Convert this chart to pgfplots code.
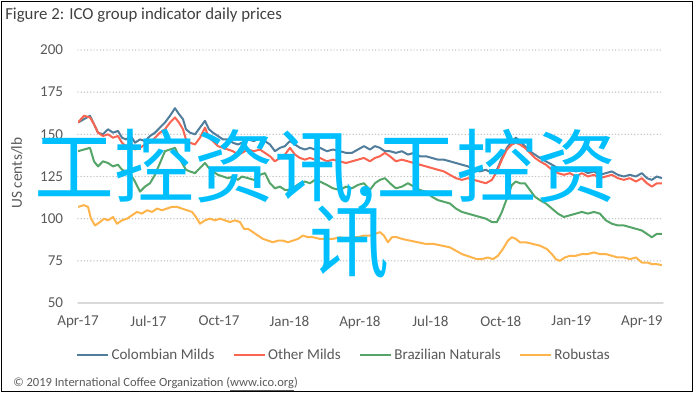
\documentclass[border=0pt]{standalone}
\usepackage{pgfplots}
\usepackage{pgfplotstable}
\pgfplotsset{compat=1.18}
\usepackage{fontspec}
\setmainfont{Carlito}
\newfontfamily\cjk{Noto Sans CJK SC}
\definecolor{cmilds}{RGB}{80,125,155}
\definecolor{omilds}{RGB}{250,100,80}
\definecolor{bnat}{RGB}{85,165,105}
\definecolor{robu}{RGB}{255,180,75}
\definecolor{txt}{RGB}{89,89,89}
\definecolor{ttl}{RGB}{64,64,64}
\definecolor{wm}{RGB}{0,191,255}

\pgfplotstableread{
p cm om bn
78 157 157 140
84 159 161 141
90 161 160 142
94 156 156 134
98 151 151 131
103 150 149 134
108 153 150 133
113 151 148 131
118 152 149 132
122 148 145 129
126 147 143 128
131 149 145 126
135 145 141 122
140 147 142 116
145 146 144 119
150 149 145 121
155 151 148 126
160 154 151 133
165 157 153 140
170 161 157 141
175 165.5 160 142
179 162 157 137
183 159 153 132
186 153 147 129
190 151 145 128
195 150 144 127
200 154 148 130
205 158 154 133
209 153 148 130
213 151 146 128
218 149 143 126
223 147 142 125
228 147 141 124
233 145 140 125
238 144 138 123
242 145 139 125
248 147 141 124
254 146 140 123
260 148 141 126
265 146 139 127
270 144 137 121
275 140 134 118
280 142 136 119
285 143 138 117
290 146 142 117
295 144 138 119
300 142 136 121
305 141 135 122
310 142 136 121
315 141 135 123
320 142 136 122
327 140 134 120
333 141 135 118
340 140 134 117
346 139 133 119
352 139 134 118
358 141 135 120
364 143 136 121
370 141 134 117
375 143 136 121
380 142 137 123
385 140 139 124
390 140 137 121
396 139 134 118
402 140 135 119
408 138 134 121
414 139 133 119
420 137 132 117
426 137 131 116
432 136 130 113
438 135 129 111
444 135 128 110
450 134 126 109
456 133 124 106
462 132 123 104
468 131 124 103
474 129 123 102
480 128 122 101
486 129 121 100
492 127 123 98
497 129 128 98
502 136 135 104
507 142 141 112
512 146 144 120
516 148 145 122
520 146 144 121
525 143 142 121
530 140 139 117
535 138 136 113
540 136 134 111
546 134 132 109
552 132 129 106
558 130 127 103
564 129 126 101
570 129 127 102
576 128 125 103
582 129 127 104
588 127 125 103
594 128 126 104
600 126 124 103
606 127 125 99
612 128 126 97
618 126 124 96
624 125 123 96
630 126 124 95
636 125 122 94
642 127 124 93
647 124 121 91
652 123 119 89
657 125 121 91
662 124 121 91
}\datamain

\pgfplotstableread{
p rb
78 107
84 108
88 107
91 100
95 96
100 98
104 100
108 99
113 101
117 97
122 99
127 100
132 102
137 104
142 103
147 105
152 104
157 106
162 105
167 106
172 107
177 107
182 106
187 105
192 104
196 101
200 97
205 99
210 100
215 99
220 100
225 99
230 98
235 99
240 98
244 94
248 94
253 92
258 90
263 88
268 87
273 86
278 87
283 87
288 86
293 87
298 88
303 90
308 89
313 89
320 88
327 88
333 88
340 89
346 88
352 89
358 89
364 90
370 90
375 91
380 92
384 90
388 86
392 89
397 89
402 88
410 87
418 86
426 85
434 85
442 84
450 83
456 81
462 79
467 78
472 77
477 76
482 76
488 77
493 76
498 78
503 82
508 87
512 89
516 88
520 86
526 86
533 85
540 84
547 82
552 79
556 76
560 75
565 77
570 78
576 78
582 79
588 79
594 80
600 79
606 79
612 78
618 77
624 77
630 76
636 77
642 74
648 74
652 73
657 73
662 72.5
}\datarob

\begin{document}
\begin{tikzpicture}
\useasboundingbox (0pt,0pt) rectangle (521.25pt,295.5pt);
\draw[black,line width=1.2pt] (1.125pt,1.875pt) rectangle (519.375pt,294.375pt);
\node[anchor=base west,inner sep=0pt,text=ttl,font=\fontsize{12.6}{14}\selectfont] at (3.75pt,281.25pt) {Figure 2: ICO group indicator daily prices};
\node[rotate=90,inner sep=0pt,text=txt,font=\fontsize{11.5}{13}\selectfont] at (12.75pt,165.75pt) {US cents/lb};
\begin{axis}[
  at={(58.5pt,68.25pt)}, anchor=south west,
  scale only axis, width=438.75pt, height=189.75pt,
  xmin=0, xmax=24.9, ymin=50, ymax=200,
  axis line style={draw=none},
  xtick={0,3,...,24},
  xticklabels={Apr-17,Jul-17,Oct-17,Jan-18,Apr-18,Jul-18,Oct-18,Jan-19,Apr-19},
  ytick={75,100,...,200},
  extra y ticks={50},
  extra y tick style={grid style={solid,draw=black!15,line width=1.1pt}},
  ymajorgrids,
  grid style={draw=black!25,line width=1.1pt,line cap=round,dash pattern=on 0pt off 2.4pt},
  major tick length=0pt,
  tick style={draw=none},
  /pgf/number format/assume math mode=true,
  ticklabel style={font=\fontsize{11.3}{13}\selectfont,text=txt,inner sep=0pt},
  yticklabel style={anchor=east,xshift=-11pt},
  xticklabel style={anchor=north,yshift=-9.5pt},
  legend columns=4,
  legend style={at={(0.4556,-0.2055)},anchor=center,draw=none,fill=none,
    font=\fontsize{11.3}{13}\selectfont,text=txt,
    /tikz/every even column/.append style={column sep=12pt}},
  legend image code/.code={\draw[#1,line width=1.2pt] (0,0) -- (23pt,0);},
  every axis plot/.append style={line width=1.5pt,line join=round,no markers},
]
\addplot[cmilds] table[x expr={(\thisrow{p}-78)/23.5},y=cm]{\datamain};
\addlegendentry{Colombian Milds}
\addplot[omilds] table[x expr={(\thisrow{p}-78)/23.5},y=om]{\datamain};
\addlegendentry{Other Milds}
\addplot[bnat] table[x expr={(\thisrow{p}-78)/23.5},y=bn]{\datamain};
\addlegendentry{Brazilian Naturals}
\addplot[robu] table[x expr={(\thisrow{p}-78)/23.5},y=rb]{\datarob};
\addlegendentry{Robustas}
\end{axis}
\node[anchor=base west,inner sep=0pt,text=txt,font=\fontsize{9.4}{11}\selectfont] at (9.75pt,6pt) {\copyright{} 2019 International Coffee Organization (\underline{www.ico.org})};
\node[anchor=west,inner sep=0pt,text=wm,font=\cjk\fontsize{60}{60}\selectfont] at (25.5pt,168pt) {工控资讯,工控资};
\node[anchor=center,inner sep=0pt,text=wm,font=\cjk\fontsize{60}{60}\selectfont] at (261.75pt,113.25pt) {讯};
\end{tikzpicture}
\end{document}
